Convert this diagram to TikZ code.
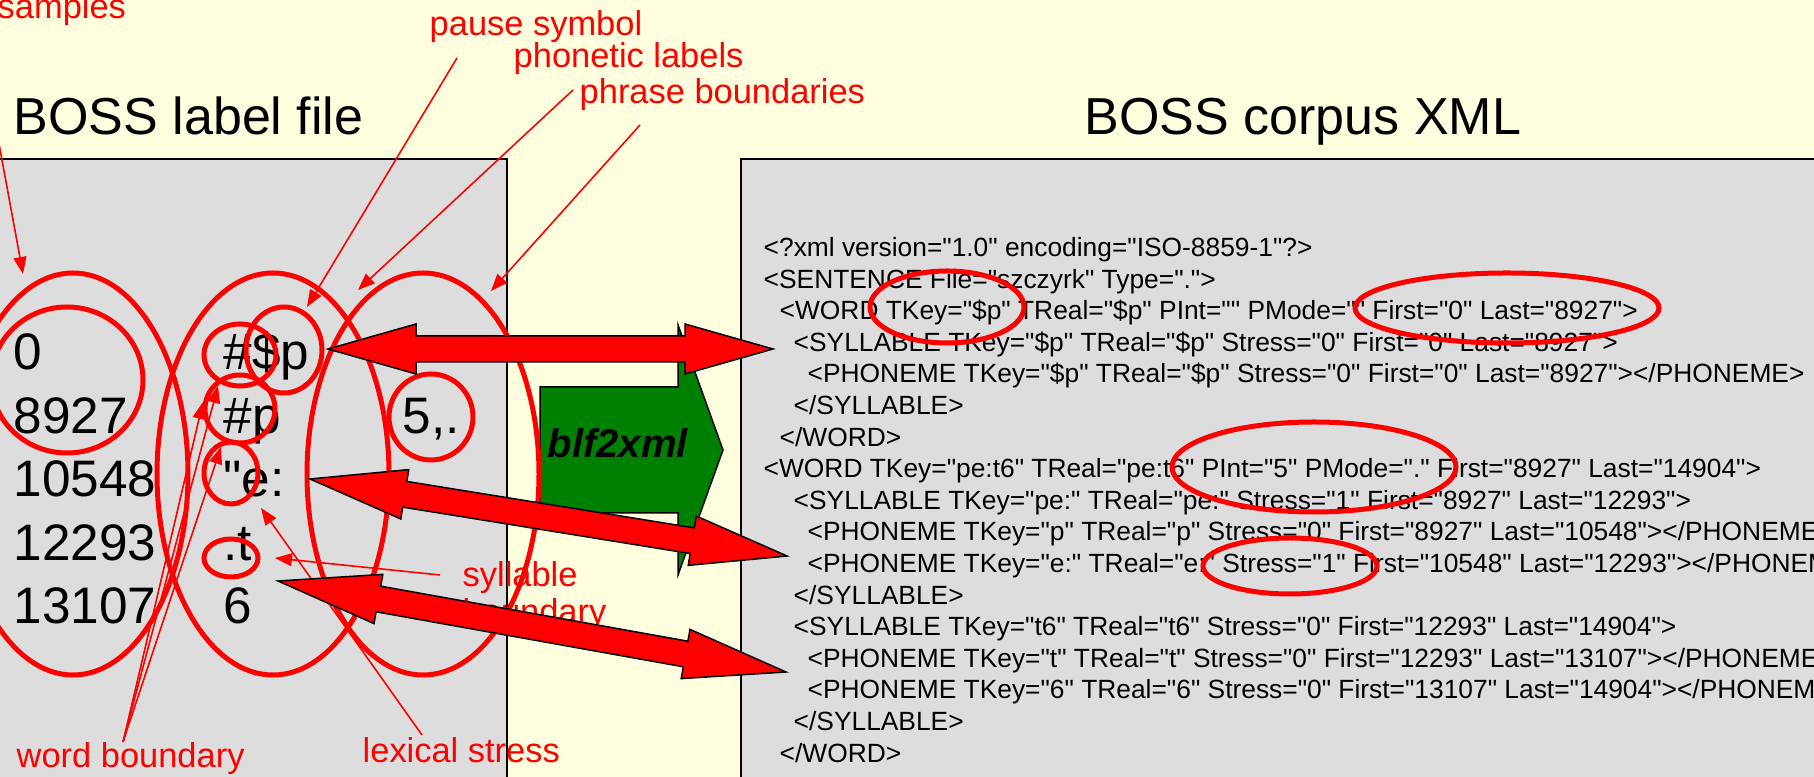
\documentclass[tikz,border=0pt]{standalone}
\usepackage{fontspec}
\setmainfont{Liberation Sans}
% plain family: keeps the straight " of the xml text
\newfontfamily\plainsans{Liberation Sans}
\usetikzlibrary{arrows.meta, calc}

\definecolor{paper}{RGB}{255,255,224}
\definecolor{panel}{RGB}{221,221,221}
\definecolor{toolgreen}{RGB}{0,128,0}

% two-headed block arrow between two points, #3 = head length
\newcommand{\bossarrow}[3]{%
  \coordinate (ha) at ($(#1)!#3!(#2)$);
  \coordinate (hb) at ($(#2)!#3!(#1)$);
  \draw[bigarrow] (#1) -- ($(ha)!2.5mm!90:(#2)$) -- ($(ha)!1.3mm!90:(#2)$)
    -- ($(hb)!1.3mm!-90:(#1)$) -- ($(hb)!2.5mm!-90:(#1)$) -- (#2)
    -- ($(hb)!2.5mm!90:(#1)$) -- ($(hb)!1.3mm!90:(#1)$)
    -- ($(ha)!1.3mm!-90:(#2)$) -- ($(ha)!2.5mm!-90:(#2)$) -- cycle;
}

\begin{document}
\begin{tikzpicture}[
    x=0.1mm, y=-0.1mm,
    title/.style={inner sep=0, anchor=base west, font=\plainsans\fontsize{14.8pt}{17pt}\selectfont},
    entry/.style={inner sep=0, anchor=base west, font=\plainsans\fontsize{14.6pt}{17pt}\selectfont},
    note/.style={inner sep=0, anchor=base west, text=red, align=left, font=\plainsans\fontsize{9.8pt}{10.7pt}\selectfont},
    xmlline/.style={inner sep=0, anchor=base west, font=\plainsans\fontsize{7.5pt}{9pt}\selectfont},
    ring/.style={draw=red, line width=0.5mm},
    pointer/.style={draw=red, line width=0.16mm, -{Triangle[length=1.7mm, width=1.3mm]}},
    bigarrow/.style={fill=red, draw=black, line width=0.15mm, line join=miter},
    tool/.style={fill=toolgreen, draw=black, line width=0.15mm}
]

\useasboundingbox (0,0) rectangle (1814,777);
\fill[paper] (0,0) rectangle (1814,777);

% the two panels
\fill[panel] (-10,159) rectangle (507,790);
\draw[line width=0.15mm] (-10,159) -- (507,159) -- (507,790);
\fill[panel] (741,159) rectangle (1830,790);
\draw[line width=0.15mm] (741,790) -- (741,159) -- (1830,159);

\node[title] (lbltitle) at (13,135) {BOSS label file};
\node[title] (xmltitle) at (1084,135) {BOSS corpus XML};

% label file rows
\foreach \smp/\lab [count=\i from 0] in {0/\#\$p, 8927/\#p, 10548/"e:, 12293/.t, 13107/6} {
  \node[entry] (smp\i) at (13,{370+63.5*\i}) {\smp};
  \node[entry] (lab\i) at (223,{370+63.5*\i}) {\lab};
}
\node[entry] (phr) at (402,433.5) {5,.};

% corpus xml
\node[xmlline] (x0) at (763,256.5) {<?xml version="1.0" encoding="ISO-8859-1"?>};
\node[xmlline] (x1) at (763,288.1) {<SENTENCE File="szczyrk" Type=".">};
\node[xmlline] (x2) at (779,319.7) {<WORD TKey="\$p" TReal="\$p" PInt="" PMode="" First="0" Last="8927">};
\node[xmlline] (x3) at (793,351.3) {<SYLLABLE TKey="\$p" TReal="\$p" Stress="0" First="0" Last="8927">};
\node[xmlline] (x4) at (807,382.9) {<PHONEME TKey="\$p" TReal="\$p" Stress="0" First="0" Last="8927"></PHONEME>};
\node[xmlline] (x5) at (793,414.5) {</SYLLABLE>};
\node[xmlline] (x6) at (779,446.1) {</WORD>};
\node[xmlline] (x7) at (763,477.7) {<WORD TKey="pe:t6" TReal="pe:t6" PInt="5" PMode="." First="8927" Last="14904">};
\node[xmlline] (x8) at (793,509.3) {<SYLLABLE TKey="pe:" TReal="pe:" Stress="1" First="8927" Last="12293">};
\node[xmlline] (x9) at (807,540.9) {<PHONEME TKey="p" TReal="p" Stress="0" First="8927" Last="10548"></PHONEME>};
\node[xmlline] (x10) at (807,572.5) {<PHONEME TKey="e:" TReal="e:" Stress="1" First="10548" Last="12293"></PHONEME>};
\node[xmlline] (x11) at (793,604.1) {</SYLLABLE>};
\node[xmlline] (x12) at (793,635.7) {<SYLLABLE TKey="t6" TReal="t6" Stress="0" First="12293" Last="14904">};
\node[xmlline] (x13) at (807,667.3) {<PHONEME TKey="t" TReal="t" Stress="0" First="12293" Last="13107"></PHONEME>};
\node[xmlline] (x14) at (807,698.9) {<PHONEME TKey="6" TReal="6" Stress="0" First="13107" Last="14904"></PHONEME>};
\node[xmlline] (x15) at (793,730.5) {</SYLLABLE>};
\node[xmlline] (x16) at (779,762.1) {</WORD>};

% annotations
\node[note] (samples) at (-3,19) {samples};
\node[note] (pause) at (429,36) {pause symbol};
\node[note] (phonetic) at (513,68) {phonetic labels};
\node[note] (phrase) at (579,104) {phrase boundaries};
\node[note] (sylbound) at (462,624) {syllable\\boundary};
\node[note] (wordbound) at (16,768) {word boundary};
\node[note] (stress) at (362,763) {lexical stress};

% converter
\draw[tool] (540,387) -- (678,387) -- (678,325) -- (723,450) -- (678,575) -- (678,513) -- (540,513) -- cycle;
\node[inner sep=0, anchor=base west, font=\plainsans\fontsize{11.4pt}{13pt}\selectfont\bfseries\itshape] (blf) at (547,458) {blf2xml};

% rings round the columns and single marks
\draw[ring] (73,474) ellipse [x radius=115, y radius=201];
\draw[ring] (67,380) ellipse [x radius=76, y radius=73];
\draw[ring] (273,474) ellipse [x radius=116, y radius=201];
\draw[ring] (423,474) ellipse [x radius=116, y radius=201];
\draw[ring] (240,355) ellipse [x radius=36, y radius=31];
\draw[ring] (284,350) ellipse [x radius=38, y radius=43];
\draw[ring] (240,409) ellipse [x radius=35, y radius=34];
\draw[ring] (231,473) ellipse [x radius=27, y radius=31];
\draw[ring] (231,558) ellipse [x radius=27, y radius=19];
\draw[ring] (431,417) ellipse [x radius=42, y radius=43];
\draw[ring] (947,307) ellipse [x radius=77, y radius=36];
\draw[ring] (1507,308) ellipse [x radius=152, y radius=35];
\draw[ring] (1314,467) ellipse [x radius=142, y radius=45];
\draw[ring] (1290,566) ellipse [x radius=87, y radius=28];

% pointers from the notes
\coordinate (samplesfrom) at (-22,30);
\coordinate (pausefrom) at (457,58);
\coordinate (phoneticfrom) at (573,90);
\coordinate (phrasefrom) at (640,125);
\coordinate (wordfrom) at (123,742);
\coordinate (stressfrom) at (422,735);
\coordinate (sylfrom) at (440,575);
\draw[pointer] (samplesfrom) -- (23,274);
\draw[pointer] (pausefrom) -- (307,307);
\draw[pointer] (phoneticfrom) -- (358,290);
\draw[pointer] (phrasefrom) -- (491,291);
\draw[pointer] (wordfrom) -- (218,386);
\draw[pointer] (wordfrom) -- (203,402);
\draw[pointer] (wordfrom) -- (221,447);
\draw[pointer] (stressfrom) -- (261,508);
\draw[pointer] (sylfrom) -- (275,558);

% links between label file and xml
\coordinate (a1) at (328,349);  \coordinate (b1) at (773,349);
\coordinate (a2) at (310,479);  \coordinate (b2) at (787,556);
\coordinate (a3) at (278,581);  \coordinate (b3) at (786,672);
\bossarrow{a1}{b1}{8.8mm}
\bossarrow{a2}{b2}{9.6mm}
\bossarrow{a3}{b3}{10.2mm}

\end{tikzpicture}
\end{document}
